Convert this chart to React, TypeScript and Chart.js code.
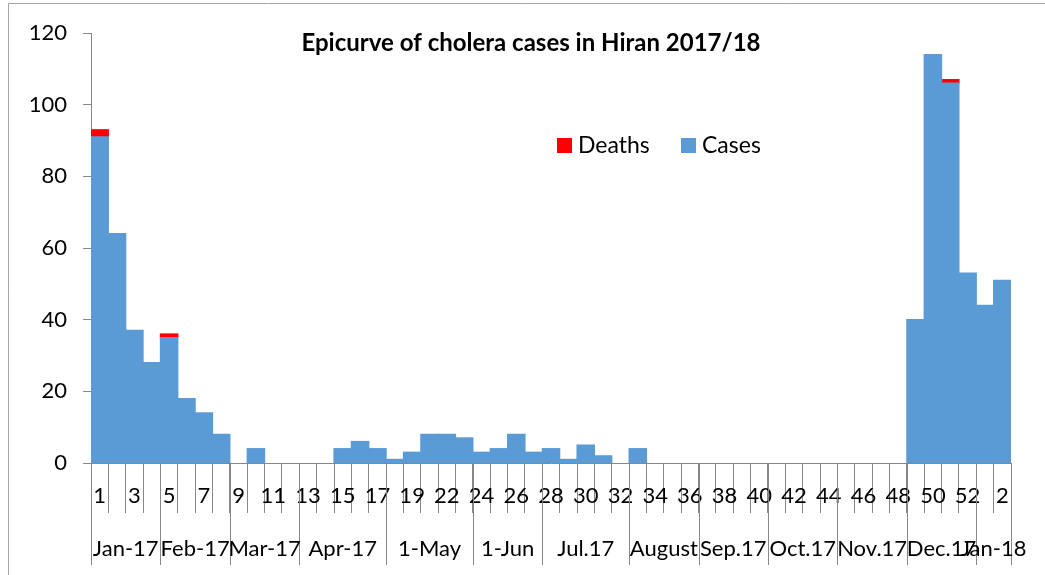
import React, { useEffect, useRef } from "react";
import { Chart, registerables } from "chart.js";

Chart.register(...registerables);

const weeks: string[] = [
  "1", "2", "3", "4", "5", "6", "7", "8", "9", "10", "11", "12", "13", "14", "15", "16", "17", "18", "19", "20",
  "22", "23", "24", "25", "26", "27", "28", "29", "30", "31", "32", "33", "34", "35", "36", "37", "38", "39", "40",
  "41", "42", "43", "44", "45", "46", "47", "48", "49", "50", "51", "52", "1", "2",
];

const cases: number[] = [
  91, 64, 37, 28, 35, 18, 14, 8, 0, 4, 0, 0, 0, 0, 4, 6, 4, 1, 3, 8,
  8, 7, 3, 4, 8, 3, 4, 1, 5, 2, 0, 4, 0, 0, 0, 0, 0, 0, 0,
  0, 0, 0, 0, 0, 0, 0, 0, 40, 114, 106, 53, 44, 51,
];

const deaths: number[] = [
  2, 0, 0, 0, 1, 0, 0, 0, 0, 0, 0, 0, 0, 0, 0, 0, 0, 0, 0, 0,
  0, 0, 0, 0, 0, 0, 0, 0, 0, 0, 0, 0, 0, 0, 0, 0, 0, 0, 0,
  0, 0, 0, 0, 0, 0, 0, 0, 0, 0, 1, 0, 0, 0,
];

const months: string[] = [
  "Jan-17", "Feb-17", "Mar-17", "Apr-17", "1-May", "1-Jun", "Jul.17", "August",
  "Sep.17", "Oct.17", "Nov.17", "Dec.17", "Jan-18",
];
// category index where each month group starts (last entry = end)
const monthStarts: number[] = [0, 4, 8, 12, 17, 22, 26, 31, 35, 39, 43, 47, 51, 53];

const title = "Epicurve of cholera cases in Hiran 2017/18";

const FONT = "Lato, 'Open Sans', sans-serif";
const AXIS_COLOR = "#878787";
const BLUE = "#5B9BD5";
const RED = "#FF0000";

const nz = (arr: number[]) => arr.map((v) => (v === 0 ? null : v));

export default function App() {
  const ref = useRef<HTMLCanvasElement | null>(null);

  useEffect(() => {
    if (!ref.current) return;

    const overlay = {
      id: "overlay",
      beforeDraw(chart: any) {
        const ctx = chart.ctx;
        ctx.save();
        ctx.fillStyle = "#ffffff";
        ctx.fillRect(0, 0, chart.width, chart.height);
        ctx.strokeStyle = "#a6a6a6";
        ctx.lineWidth = 1;
        ctx.beginPath();
        ctx.moveTo(8.5, chart.height);
        ctx.lineTo(8.5, 3.5);
        ctx.lineTo(chart.width, 3.5);
        ctx.stroke();
        ctx.restore();
      },
      afterDraw(chart: any) {
        const ctx = chart.ctx;
        const x = chart.scales.x;
        const area = chart.chartArea;
        const n = weeks.length;
        const step = (area.right - area.left) / n;
        ctx.save();
        // month separators
        ctx.strokeStyle = AXIS_COLOR;
        ctx.lineWidth = 1;
        monthStarts.forEach((idx) => {
          const px = Math.round(x.getPixelForValue(idx) - step / 2) + 0.5;
          ctx.beginPath();
          ctx.moveTo(px, area.bottom);
          ctx.lineTo(px, area.bottom + 102);
          ctx.stroke();
        });
        // month labels
        ctx.fillStyle = "#000";
        ctx.font = `22px ${FONT}`;
        ctx.textAlign = "center";
        ctx.textBaseline = "middle";
        months.forEach((m, i) => {
          const a = x.getPixelForValue(monthStarts[i]) - step / 2;
          const b = x.getPixelForValue(monthStarts[i + 1]) - step / 2;
          ctx.fillText(m, (a + b) / 2, area.bottom + 86);
        });
        // title
        ctx.font = `bold 24px ${FONT}`;
        ctx.fillText(title, 531, 43);
        // legend
        const ds = chart.data.datasets;
        const items = [ds[1], ds[0]];
        const xs = [557, 681];
        ctx.font = `23px ${FONT}`;
        ctx.textAlign = "left";
        items.forEach((d: any, i: number) => {
          ctx.fillStyle = d.backgroundColor;
          ctx.fillRect(xs[i], 138, 15, 15);
          ctx.fillStyle = "#000";
          ctx.fillText(d.label, xs[i] + 21, 146);
        });
        ctx.restore();
      },
    };

    const chart = new Chart(ref.current, {
      type: "bar",
      data: {
        labels: weeks,
        datasets: [
          {
            label: "Cases",
            data: nz(cases),
            backgroundColor: BLUE,
            borderWidth: 0,
            inflateAmount: 0.6,
            barPercentage: 1,
            categoryPercentage: 1,
          },
          {
            label: "Deaths",
            data: nz(deaths),
            backgroundColor: RED,
            borderWidth: 0,
            inflateAmount: 0.6,
            barPercentage: 1,
            categoryPercentage: 1,
          },
        ],
      },
      options: {
        responsive: false,
        animation: false,
        layout: { padding: { left: 0, top: 33, right: 34, bottom: 0 } },
        plugins: {
          legend: { display: false },
          title: { display: false },
          tooltip: { enabled: false },
        },
        scales: {
          x: {
            stacked: true,
            afterFit: (s: any) => {
              s.height = 112;
            },
            grid: {
              offset: true,
              drawOnChartArea: false,
              drawTicks: true,
              tickLength: 50,
              color: AXIS_COLOR,
              tickColor: AXIS_COLOR,
            },
            border: { color: AXIS_COLOR, width: 1 },
            ticks: {
              autoSkip: false,
              maxRotation: 0,
              minRotation: 0,
              padding: -30,
              color: "#000",
              font: { family: FONT, size: 22 },
              callback: (_v: any, i: number) => (i % 2 === 0 ? weeks[i] : ""),
            },
          },
          y: {
            stacked: true,
            min: 0,
            max: 120,
            afterFit: (s: any) => {
              s.width = 91;
            },
            grid: {
              drawOnChartArea: false,
              drawTicks: true,
              tickLength: 8,
              color: AXIS_COLOR,
              tickColor: AXIS_COLOR,
            },
            border: { color: AXIS_COLOR, width: 1 },
            ticks: {
              stepSize: 20,
              padding: 16,
              color: "#000",
              font: { family: FONT, size: 22 },
            },
          },
        },
      },
      plugins: [overlay],
    });

    return () => chart.destroy();
  }, []);

  return (
    <div style={{ position: "fixed", left: 0, top: 0, width: 1045, height: 575, background: "#fff" }}>
      <canvas ref={ref} width={1045} height={575} style={{ display: "block" }} />
    </div>
  );
}
